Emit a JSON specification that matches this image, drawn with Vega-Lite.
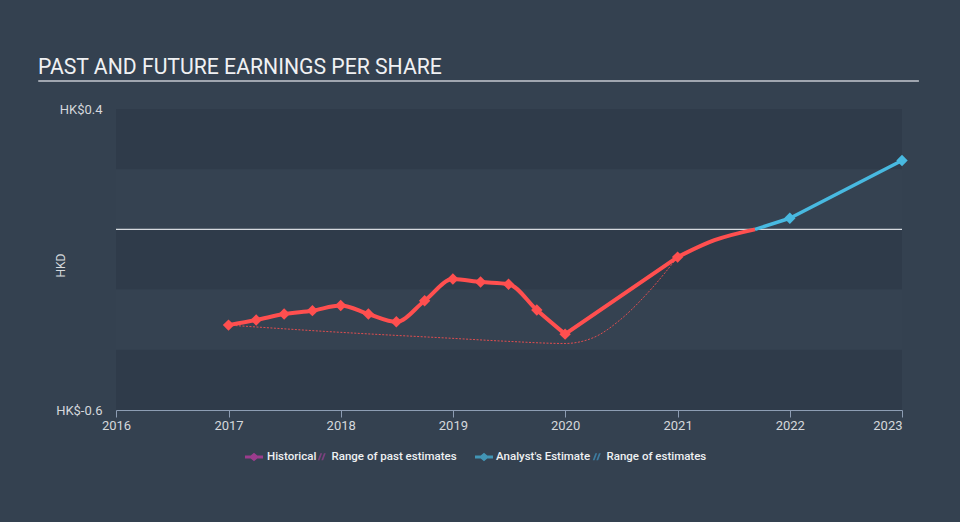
{
  "$schema": "https://vega.github.io/schema/vega-lite/v6.json",
  "width": 786,
  "height": 301,
  "autosize": {"type": "none"},
  "padding": {"left": 116, "top": 109, "right": 58, "bottom": 112},
  "background": "#344150",
  "title": {
    "text": "PAST AND FUTURE EARNINGS PER SHARE",
    "anchor": "start",
    "frame": "group",
    "dx": -78,
    "offset": -15,
    "baseline": "alphabetic",
    "font": "Roboto",
    "fontSize": 21.2,
    "fontWeight": "normal",
    "color": "#f0f1f3"
  },
  "datasets": {
    "hist": [
      {"date": "2017-01-01", "value": -0.318},
      {"date": "2017-04-01", "value": -0.301},
      {"date": "2017-07-01", "value": -0.281},
      {"date": "2017-10-01", "value": -0.270},
      {"date": "2018-01-01", "value": -0.253},
      {"date": "2018-04-01", "value": -0.281},
      {"date": "2018-07-01", "value": -0.307},
      {"date": "2018-10-01", "value": -0.237},
      {"date": "2019-01-01", "value": -0.165},
      {"date": "2019-04-01", "value": -0.175},
      {"date": "2019-07-01", "value": -0.182},
      {"date": "2019-10-01", "value": -0.268},
      {"date": "2020-01-01", "value": -0.348},
      {"date": "2021-01-01", "value": -0.092}
    ],
    "histQuarterly": [
      {"date": "2017-01-01", "value": -0.318},
      {"date": "2017-04-01", "value": -0.301},
      {"date": "2017-07-01", "value": -0.281},
      {"date": "2017-10-01", "value": -0.270},
      {"date": "2018-01-01", "value": -0.253},
      {"date": "2018-04-01", "value": -0.281},
      {"date": "2018-07-01", "value": -0.307},
      {"date": "2018-10-01", "value": -0.237},
      {"date": "2019-01-01", "value": -0.165},
      {"date": "2019-04-01", "value": -0.175},
      {"date": "2019-07-01", "value": -0.182},
      {"date": "2019-10-01", "value": -0.268},
      {"date": "2020-01-01", "value": -0.348}
    ],
    "histAnnual": [
      {"date": "2020-01-01", "value": -0.348},
      {"date": "2021-01-01", "value": -0.092}
    ],
    "bridge": [
      {"date": "2021-01-01", "value": -0.092},
      {"date": "2021-05-01", "value": -0.036},
      {"date": "2021-09-10", "value": 0.0}
    ],
    "est": [
      {"date": "2021-09-10", "value": 0.0},
      {"date": "2022-01-01", "value": 0.037},
      {"date": "2023-01-01", "value": 0.229}
    ],
    "estPoints": [
      {"date": "2022-01-01", "value": 0.037},
      {"date": "2023-01-01", "value": 0.229}
    ],
    "pastRange": [
      {"date": "2017-01-01", "value": -0.318},
      {"date": "2018-01-01", "value": -0.342},
      {"date": "2019-01-01", "value": -0.362},
      {"date": "2019-07-01", "value": -0.372},
      {"date": "2020-01-01", "value": -0.379},
      {"date": "2020-04-01", "value": -0.360},
      {"date": "2020-07-01", "value": -0.298},
      {"date": "2020-10-01", "value": -0.205},
      {"date": "2021-01-01", "value": -0.092}
    ],
    "darkBands": [
      {"value": 0.4, "value2": 0.2},
      {"value": 0.0, "value2": -0.2},
      {"value": -0.4, "value2": -0.6}
    ],
    "lightBands": [
      {"value": 0.2, "value2": 0.0},
      {"value": -0.2, "value2": -0.4}
    ]
  },
  "layer": [
    {
      "data": {"name": "darkBands"},
      "mark": {"type": "rect", "color": "#2f3b4a"},
      "encoding": {
        "y": {"field": "value", "type": "quantitative", "title": "HKD", "scale": {"domain": [-0.6, 0.4], "nice": false, "zero": false}},
        "y2": {"field": "value2"}
      }
    },
    {
      "data": {"name": "lightBands"},
      "mark": {"type": "rect", "color": "#354251"},
      "encoding": {
        "y": {"field": "value", "type": "quantitative", "title": "HKD"},
        "y2": {"field": "value2"}
      }
    },
    {
      "data": {"values": [{}]},
      "mark": {"type": "rule", "color": "#d6dadf", "strokeWidth": 1.2},
      "encoding": {"y": {"datum": 0, "type": "quantitative", "title": "HKD"}}
    },
    {
      "data": {"values": [{}]},
      "mark": {"type": "rule", "color": "#c4c9d0", "strokeWidth": 1.5},
      "encoding": {
        "x": {"datum": {"year": 2015, "month": 4, "date": 23}, "type": "temporal", "title": null},
        "x2": {"datum": {"year": 2023, "month": 2, "date": 25}},
        "y": {"datum": 0.493, "type": "quantitative", "title": "HKD"}
      }
    },
    {
      "data": {"name": "pastRange"},
      "mark": {"type": "line", "color": "#ff4f4f", "strokeWidth": 1, "strokeDash": [2, 1.5], "opacity": 0.85, "interpolate": "monotone"},
      "encoding": {
        "x": {"field": "date", "type": "temporal", "title": null},
        "y": {"field": "value", "type": "quantitative", "title": "HKD"}
      }
    },
    {
      "data": {"name": "histQuarterly"},
      "mark": {"type": "line", "color": "#ff4f4f", "strokeWidth": 4, "strokeCap": "round", "strokeJoin": "round", "interpolate": "monotone"},
      "encoding": {
        "x": {
          "field": "date",
          "type": "temporal",
          "title": null,
          "scale": {"domain": [{"year": 2016, "month": 1, "date": 1}, {"year": 2023, "month": 1, "date": 1}]},
          "axis": {
            "format": "%Y",
            "tickCount": {"interval": "year", "step": 1},
            "grid": false,
            "domainColor": "#8d9db3",
            "tickColor": "#8d9db3",
            "tickSize": 7,
            "labelColor": "#d5d8dc",
            "labelFont": "Roboto",
            "labelFontSize": 13,
            "labelPadding": 2,
            "labelFlush": false,
            "labelAlign": {"condition": {"test": "year(datum.value) >= 2023", "value": "right"}, "value": "center"}
          }
        },
        "y": {
          "field": "value",
          "type": "quantitative",
          "title": "HKD",
          "axis": {
            "values": [-0.6, 0.4],
            "labelExpr": "'HK$' + (datum.value < 0 ? '-' : '') + format(abs(datum.value), '.1f')",
            "domain": false,
            "ticks": false,
            "grid": false,
            "labelColor": "#d5d8dc",
            "labelFont": "Roboto",
            "labelFontSize": 13,
            "labelPadding": 14,
            "labelBaseline": "middle",
            "titleColor": "#d5d8dc",
            "titleFont": "Roboto",
            "titleFontSize": 12,
            "titleFontWeight": "normal",
            "titleAngle": -90,
            "titleX": -56,
            "titleY": 156,
            "titleAlign": "center",
            "titleBaseline": "middle"
          }
        }
      }
    },
    {
      "data": {"name": "histAnnual"},
      "mark": {"type": "line", "color": "#ff4f4f", "strokeWidth": 4, "strokeCap": "round", "strokeJoin": "round", "interpolate": "linear"},
      "encoding": {
        "x": {"field": "date", "type": "temporal", "title": null},
        "y": {"field": "value", "type": "quantitative", "title": "HKD"}
      }
    },
    {
      "data": {"name": "bridge"},
      "mark": {"type": "line", "color": "#ff4f4f", "strokeWidth": 4, "strokeCap": "butt", "interpolate": "monotone"},
      "encoding": {
        "x": {"field": "date", "type": "temporal", "title": null},
        "y": {"field": "value", "type": "quantitative", "title": "HKD"}
      }
    },
    {
      "data": {"name": "hist"},
      "mark": {"type": "point", "shape": "diamond", "filled": true, "size": 130, "color": "#ff4f4f", "opacity": 1},
      "encoding": {
        "x": {"field": "date", "type": "temporal", "title": null},
        "y": {"field": "value", "type": "quantitative", "title": "HKD"}
      }
    },
    {
      "data": {"name": "est"},
      "mark": {"type": "line", "color": "#48b9e0", "strokeWidth": 3.5, "strokeCap": "butt", "strokeJoin": "round", "interpolate": "linear"},
      "encoding": {
        "x": {"field": "date", "type": "temporal", "title": null},
        "y": {"field": "value", "type": "quantitative", "title": "HKD"}
      }
    },
    {
      "data": {"name": "estPoints"},
      "mark": {"type": "point", "shape": "diamond", "filled": true, "size": 130, "color": "#48b9e0", "opacity": 1},
      "encoding": {
        "x": {"field": "date", "type": "temporal", "title": null},
        "y": {"field": "value", "type": "quantitative", "title": "HKD"}
      }
    },
    {
      "data": {"values": [{"item": "Historical"}]},
      "mark": {"type": "point", "filled": true, "size": 0, "strokeWidth": 0},
      "encoding": {
        "color": {"field": "item", "type": "nominal", "scale": {"range": ["#c83aa6"]},
          "legend": {"orient": "none", "legendX": 129, "legendY": 339, "title": null, "symbolSize": 324, "symbolStrokeWidth": 0, "labelOffset": 4, "labelFont": "Roboto", "labelFontSize": 11.5, "labelFontWeight": 500, "labelColor": "#eef0f2"}},
        "shape": {"field": "item", "type": "nominal", "scale": {"range": ["M-1,-0.17L1,-0.17L1,0.17L-1,0.17Z M0,-0.47L0.56,0L0,0.47L-0.56,0Z"]},
          "legend": {"orient": "none", "legendX": 129, "legendY": 339, "title": null, "symbolSize": 324, "symbolStrokeWidth": 0, "labelOffset": 4, "labelFont": "Roboto", "labelFontSize": 11.5, "labelFontWeight": 500, "labelColor": "#eef0f2"}}
      }
    },
    {
      "data": {"values": [{"item": "Range of past estimates"}]},
      "mark": {"type": "point", "filled": true, "size": 0, "strokeWidth": 0},
      "encoding": {
        "color": {"field": "item", "type": "nominal", "scale": {"range": ["#9a4292"]},
          "legend": {"orient": "none", "legendX": 200, "legendY": 342, "title": null, "symbolSize": 64, "symbolStrokeWidth": 0, "labelOffset": 4, "labelFont": "Roboto", "labelFontSize": 11.5, "labelFontWeight": 500, "labelColor": "#eef0f2"}},
        "shape": {"field": "item", "type": "nominal", "scale": {"range": ["M-1,0.9L-0.35,-0.9L0.1,-0.9L-0.55,0.9Z M-0.1,0.9L0.55,-0.9L1,-0.9L0.35,0.9Z"]},
          "legend": {"orient": "none", "legendX": 200, "legendY": 342, "title": null, "symbolSize": 64, "symbolStrokeWidth": 0, "labelOffset": 4, "labelFont": "Roboto", "labelFontSize": 11.5, "labelFontWeight": 500, "labelColor": "#eef0f2"}}
      }
    },
    {
      "data": {"values": [{"item": "Analyst's Estimate"}]},
      "mark": {"type": "point", "filled": true, "size": 0, "strokeWidth": 0},
      "encoding": {
        "color": {"field": "item", "type": "nominal", "scale": {"range": ["#48b9e0"]},
          "legend": {"orient": "none", "legendX": 359, "legendY": 339, "title": null, "symbolSize": 324, "symbolStrokeWidth": 0, "labelOffset": 3, "labelFont": "Roboto", "labelFontSize": 11.5, "labelFontWeight": 500, "labelColor": "#eef0f2"}},
        "shape": {"field": "item", "type": "nominal", "scale": {"range": ["M-1,-0.17L1,-0.17L1,0.17L-1,0.17Z M0,-0.47L0.56,0L0,0.47L-0.56,0Z"]},
          "legend": {"orient": "none", "legendX": 359, "legendY": 339, "title": null, "symbolSize": 324, "symbolStrokeWidth": 0, "labelOffset": 3, "labelFont": "Roboto", "labelFontSize": 11.5, "labelFontWeight": 500, "labelColor": "#eef0f2"}}
      }
    },
    {
      "data": {"values": [{"item": "Range of estimates"}]},
      "mark": {"type": "point", "filled": true, "size": 0, "strokeWidth": 0},
      "encoding": {
        "color": {"field": "item", "type": "nominal", "scale": {"range": ["#4296c2"]},
          "legend": {"orient": "none", "legendX": 475, "legendY": 342, "title": null, "symbolSize": 64, "symbolStrokeWidth": 0, "labelOffset": 4, "labelFont": "Roboto", "labelFontSize": 11.5, "labelFontWeight": 500, "labelColor": "#eef0f2"}},
        "shape": {"field": "item", "type": "nominal", "scale": {"range": ["M-1,0.9L-0.35,-0.9L0.1,-0.9L-0.55,0.9Z M-0.1,0.9L0.55,-0.9L1,-0.9L0.35,0.9Z"]},
          "legend": {"orient": "none", "legendX": 475, "legendY": 342, "title": null, "symbolSize": 64, "symbolStrokeWidth": 0, "labelOffset": 4, "labelFont": "Roboto", "labelFontSize": 11.5, "labelFontWeight": 500, "labelColor": "#eef0f2"}}
      }
    }
  ],
  "resolve": {
    "scale": {"color": "independent", "shape": "independent"},
    "legend": {"color": "independent", "shape": "independent"}
  },
  "config": {
    "view": {"stroke": null},
    "font": "Roboto"
  }
}
